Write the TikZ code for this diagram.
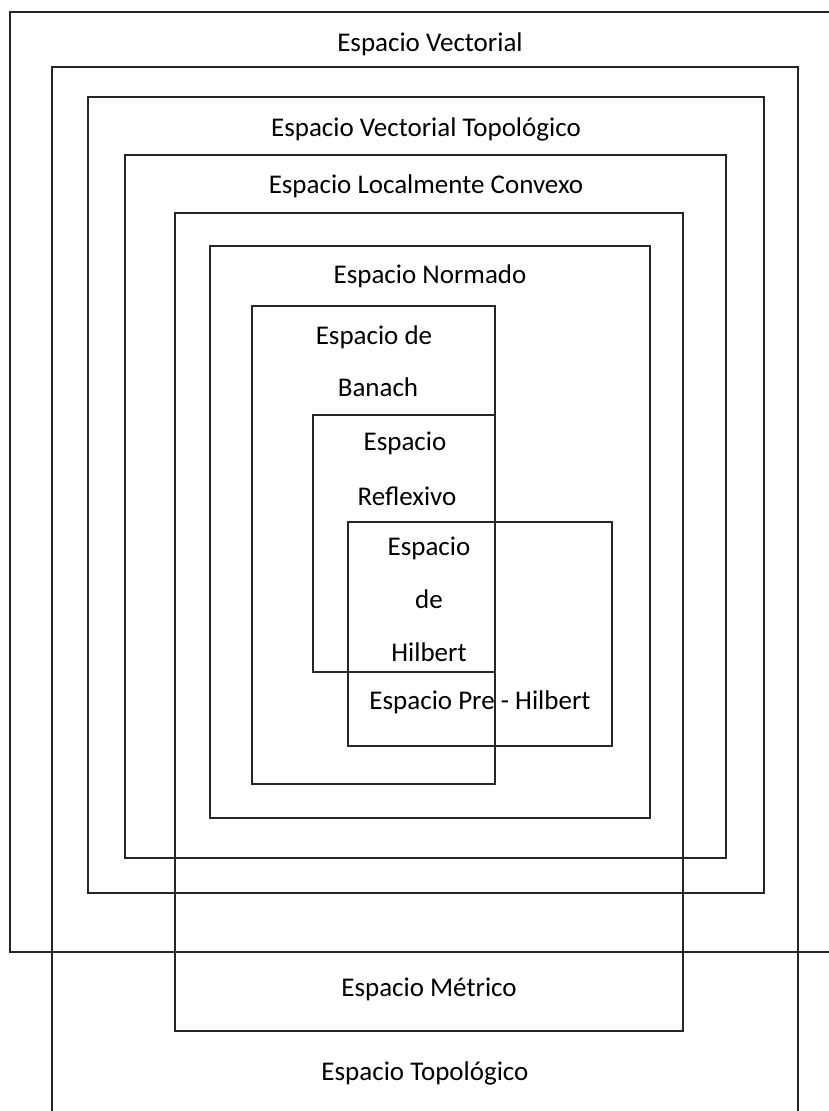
\documentclass[tikz,border=0pt]{standalone}
\usepackage{fontspec}
\setmainfont{Carlito}
\begin{document}
\begin{tikzpicture}[x=1pt,y=-1pt,
  box/.style={draw=black!85,line width=1.6pt},
  lbl/.style={font=\fontsize{27}{32}\selectfont,inner sep=0pt,anchor=base}]
\useasboundingbox (0,0) rectangle (829,1111);
\clip (0,0) rectangle (829,1111);
\fill[white] (0,0) rectangle (829,1111);
% rectangles
\draw[box] (10,12) rectangle (845,952);      % Vectorial
\draw[box] (52,67) rectangle (798,1130);     % Topologico
\draw[box] (88,97) rectangle (764,893);      % Vectorial Topologico
\draw[box] (125,155) rectangle (726,858);    % Localmente Convexo
\draw[box] (175,213) rectangle (683,1031);   % Metrico
\draw[box] (210,246) rectangle (650,818);    % Normado
\draw[box] (252,306) rectangle (495,784);    % Banach
\draw[box] (313,415) rectangle (495,672);    % Reflexivo
\draw[box] (348,522) rectangle (612,746);    % Pre-Hilbert
% labels
\node[lbl] (tv) at (430,51) {Espacio Vectorial};
\node[lbl] (tvt) at (426,136) {Espacio Vectorial Topológico};
\node[lbl] (tlc) at (426,193) {Espacio Localmente Convexo};
\node[lbl] (tn) at (430,283) {Espacio Normado};
\node[lbl] (tb1) at (374,344) {Espacio de};
\node[lbl] (tb2) at (378,396) {Banach};
\node[lbl] (tr1) at (405,450) {Espacio};
\node[lbl] (tr2) at (407,505) {Reflexivo};
\node[lbl] (th1) at (429,555) {Espacio};
\node[lbl] (th2) at (429,608) {de};
\node[lbl] (th3) at (429,661) {Hilbert};
\node[lbl] (tph) at (480,709) {Espacio Pre - Hilbert};
\node[lbl] (tm) at (429,996) {Espacio Métrico};
\node[lbl] (tt) at (425,1080) {Espacio Topológico};
\end{tikzpicture}
\end{document}
